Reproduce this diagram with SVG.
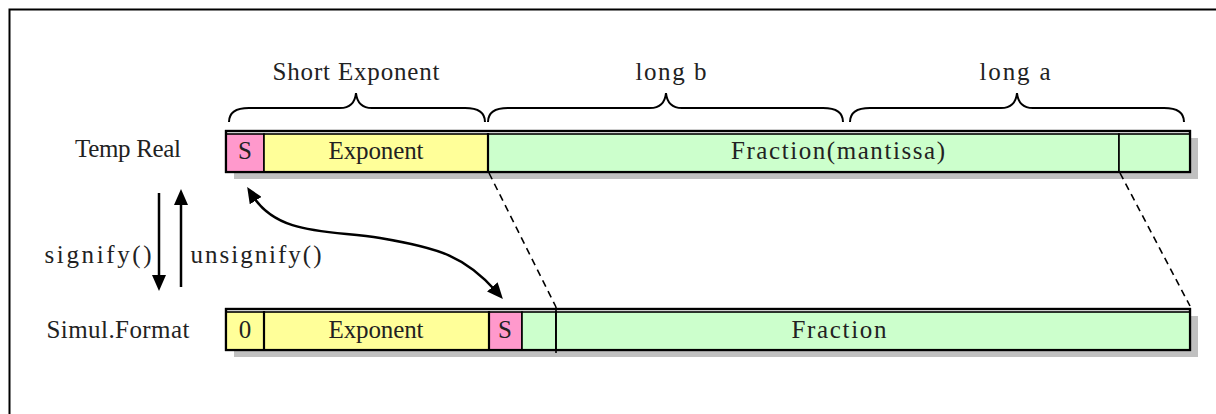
<svg xmlns="http://www.w3.org/2000/svg" width="1216" height="414" viewBox="0 0 1216 414">
<style>
text{font-family:"Liberation Serif","Times New Roman",serif;font-size:25px;fill:#222;text-anchor:middle}
.shadow{fill:#c0c0c0;stroke:none}
.outer{fill:#fff;stroke:#000;stroke-width:2.2}
.cell{stroke:#000;stroke-width:1.6}
.pink{fill:#ff99cc}
.yellow{fill:#ffff99}
.green{fill:#ccffcc}
.div{stroke:#000;stroke-width:2.2}
.brace{fill:none;stroke:#000;stroke-width:2}
.arrow{fill:none;stroke:#000;stroke-width:2.5}
.dash{fill:none;stroke:#000;stroke-width:1.6;stroke-dasharray:7 5}
</style>
<defs>
<marker id="ah" viewBox="0 0 16 14" refX="6" refY="7" markerWidth="16" markerHeight="14" markerUnits="userSpaceOnUse" orient="auto-start-reverse">
<path d="M0,0 L16,7 L0,14 z" fill="#000"/>
</marker>
</defs>
<rect x="9.5" y="9.5" width="1300" height="500" fill="#fff" stroke="#000" stroke-width="2"/>

<g id="braces">
<path class="brace" d="M229,122 C229,113 235,108 249,108 H340 C350,108 355,103 356,93 C357,103 362,108 372,108 H465 C479,108 485,113 485,122"/>
<text x="356" y="80" textLength="167" lengthAdjust="spacing">Short Exponent</text>
<path class="brace" d="M488,122 C488,113 494,108 508,108 H650 C660,108 665,103 666,93 C667,103 672,108 682,108 H823 C837,108 843,113 843,122"/>
<text x="671" y="80" textLength="71" lengthAdjust="spacing">long b</text>
<path class="brace" d="M850,122 C850,113 856,108 870,108 H1001 C1011,108 1016,103 1017,93 C1018,103 1023,108 1033,108 H1164 C1178,108 1184,113 1184,122"/>
<text x="1015" y="80" textLength="71" lengthAdjust="spacing">long a</text>
</g>

<g id="temp-real">
<text x="128" y="157" textLength="106" lengthAdjust="spacing">Temp Real</text>
<rect class="shadow" x="234" y="138" width="964" height="41"/>
<rect class="outer" x="226" y="131" width="964" height="41"/>
<rect class="cell pink" x="226" y="134" width="38" height="38"/>
<rect class="cell yellow" x="264" y="134" width="224" height="38"/>
<rect class="cell green" x="488" y="134" width="631" height="38"/>
<rect class="cell green" x="1119" y="134" width="71" height="38"/>
<rect x="226" y="131" width="964" height="41" fill="none" stroke="#000" stroke-width="2.2"/>
<line class="div" x1="488" y1="133" x2="488" y2="172"/>
<text x="245" y="159">S</text>
<text x="376" y="159" textLength="95" lengthAdjust="spacing">Exponent</text>
<text x="838" y="159" textLength="214" lengthAdjust="spacing">Fraction(mantissa)</text>
</g>

<g id="simul-format">
<text x="118" y="338" textLength="143" lengthAdjust="spacing">Simul.Format</text>
<rect class="shadow" x="234" y="316" width="964" height="41"/>
<rect class="outer" x="226" y="309" width="964" height="41"/>
<rect class="cell yellow" x="226" y="312" width="38" height="38"/>
<rect class="cell yellow" x="264" y="312" width="225" height="38"/>
<rect class="cell pink" x="489" y="312" width="33" height="38"/>
<rect class="cell green" x="522" y="312" width="34" height="38"/>
<rect class="cell green" x="556" y="312" width="634" height="38"/>
<rect x="226" y="309" width="964" height="41" fill="none" stroke="#000" stroke-width="2.2"/>
<line class="div" x1="264" y1="311" x2="264" y2="350"/>
<line class="div" x1="489" y1="311" x2="489" y2="350"/>
<line x1="556" y1="307" x2="556" y2="353" stroke="#000" stroke-width="1.6"/>
<text x="245" y="338">0</text>
<text x="376" y="338" textLength="95" lengthAdjust="spacing">Exponent</text>
<text x="505" y="338">S</text>
<text x="839" y="338" textLength="95" lengthAdjust="spacing">Fraction</text>
</g>

<g id="connectors">
<line class="dash" x1="489" y1="173" x2="556" y2="307"/>
<line class="dash" x1="1120" y1="173" x2="1190" y2="306"/>
<line class="arrow" x1="159" y1="193" x2="159" y2="281" marker-end="url(#ah)"/>
<line class="arrow" x1="181" y1="287" x2="181" y2="199" marker-end="url(#ah)"/>
<path class="arrow" d="M252.5,195.5 C278,236 330,230 380,238 C440,248 466,257 496.3,291.5" marker-start="url(#ah)" marker-end="url(#ah)"/>
<text x="98" y="263" textLength="107" lengthAdjust="spacing">signify()</text>
<text x="256" y="263" textLength="131" lengthAdjust="spacing">unsignify()</text>
</g>
</svg>
